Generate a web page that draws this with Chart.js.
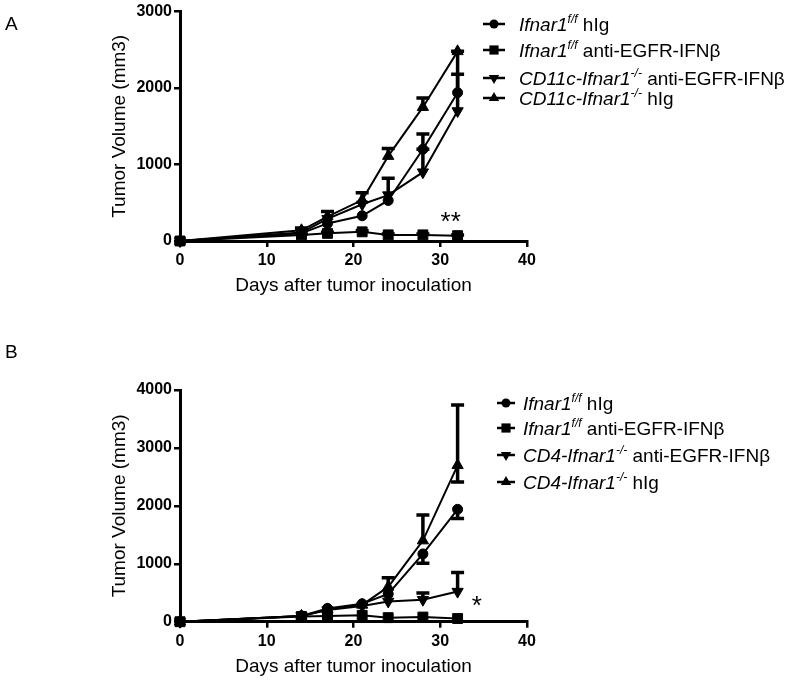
<!DOCTYPE html>
<html>
<head>
<meta charset="utf-8">
<script src="https://cdn.jsdelivr.net/npm/chart.js@4.4.1/dist/chart.umd.min.js"></script>
<style>
  html, body { margin: 0; padding: 0; background: #fff; }
  #wrap { position: relative; width: 793px; height: 680px; }
  .panel { position: absolute; left: 0; width: 793px; height: 340px; }
  #panelA { top: 0; }
  #panelB { top: 340px; }
</style>
</head>
<body>
<div id="wrap">
  <div class="panel" id="panelA"><canvas id="graficoA" width="793" height="340"></canvas></div>
  <div class="panel" id="panelB"><canvas id="graficoB" width="793" height="340"></canvas></div>
</div>
<script>
// due pannelli (A e B): volume tumorale nel tempo, media con barre d'errore
const FONT = "'Liberation Sans', Arial, sans-serif";

const days = [0, 14, 17, 21, 24, 28, 32];
const xTicks = [0, 10, 20, 30, 40];
const yTicksA = [0, 1000, 2000, 3000];
const yTicksB = [0, 1000, 2000, 3000, 4000];

// Pannello A
const aIfnarHig = [0, 100, 230, 330, 530, 1200, 1940];
const aIfnarHigHi = [0, 0, 0, 0, 0, 200, 240];
const aIfnarAnti = [0, 80, 100, 120, 80, 80, 70];
const aIfnarAntiHi = [0, 10, 15, 15, 10, 10, 10];
const aCd11cAnti = [0, 110, 290, 480, 600, 900, 1700];
const aCd11cAntiHi = [0, 0, 0, 0, 220, 300, 780];
const aCd11cHig = [0, 140, 320, 535, 1110, 1750, 2480];
const aCd11cHigHi = [0, 30, 65, 95, 100, 120, 0];

// Pannello B
const bIfnarHig = [0, 100, 230, 310, 480, 1170, 1940];
const bIfnarHigLo = [0, 0, 0, 0, 0, 160, 160];
const bIfnarAnti = [0, 90, 100, 110, 70, 80, 55];
const bCd4Anti = [0, 100, 200, 270, 350, 380, 520];
const bCd4AntiHi = [0, 0, 0, 0, 0, 115, 330];
const bCd4Hig = [0, 100, 210, 290, 600, 1400, 2700];
const bCd4HigHi = [0, 0, 0, 0, 160, 440, 1040];
const bCd4HigLo = [0, 0, 0, 0, 0, 0, 290];

// etichette legenda: [testo, stile] (i = corsivo, s = apice)
const labelIfnarHig = [['Ifnar1', 'i'], ['f/f', 'is'], [' hIg', '']];
const labelIfnarAnti = [['Ifnar1', 'i'], ['f/f', 'is'], [' anti-EGFR-IFN\u03b2', '']];
const labelCd11cAnti = [['CD11c-Ifnar1', 'i'], ['-/-', 'is'], [' anti-EGFR-IFN\u03b2', '']];
const labelCd11cHig = [['CD11c-Ifnar1', 'i'], ['-/-', 'is'], [' hIg', '']];
const labelCd4Anti = [['CD4-Ifnar1', 'i'], ['-/-', 'is'], [' anti-EGFR-IFN\u03b2', '']];
const labelCd4Hig = [['CD4-Ifnar1', 'i'], ['-/-', 'is'], [' hIg', '']];

// asterischi: [testo, giorno, volume]
const starsA = ['**', 31.2, 310];
const starsB = ['*', 34.2, 360];

function punti(vals) {
  return days.map((d, k) => ({ x: d, y: vals[k] }));
}

function serie(segs, vals, style, hi, lo) {
  const s = {
    segmenti: segs,
    label: segs.map(p => p[0]).join(''),
    data: punti(vals),
    errHi: hi || [],
    errLo: lo || [],
    borderColor: '#000',
    backgroundColor: '#000',
    borderWidth: 2,
    tension: 0,
    clip: false,
    pointBackgroundColor: '#000',
    pointBorderColor: '#000',
    pointBorderWidth: 1,
    pointStyle: 'circle',
    pointRadius: 5,
    pointRotation: 0
  };
  if (style === 'rect') { s.pointStyle = 'rect'; s.pointRadius = 7; }
  if (style === 'down') { s.pointStyle = 'triangle'; s.pointRadius = 6.5; s.pointRotation = 180; }
  if (style === 'up') { s.pointStyle = 'triangle'; s.pointRadius = 6.5; }
  return s;
}

const barreErrore = {
  id: 'barreErrore',
  afterDatasetsDraw(chart) {
    const ctx = chart.ctx;
    const ys = chart.scales.y;
    ctx.save();
    ctx.strokeStyle = '#000';
    ctx.lineWidth = 3.5;
    chart.data.datasets.forEach((ds, i) => {
      const meta = chart.getDatasetMeta(i);
      meta.data.forEach((pt, j) => {
        const v = ds.data[j].y;
        const up = ds.errHi[j] || 0;
        const dn = ds.errLo[j] || 0;
        [[up, 1], [dn, -1]].forEach(([e, segno]) => {
          if (e <= 0) return;
          const yy = ys.getPixelForValue(v + segno * e);
          ctx.beginPath();
          ctx.moveTo(pt.x, pt.y);
          ctx.lineTo(pt.x, yy);
          ctx.moveTo(pt.x - 6.5, yy);
          ctx.lineTo(pt.x + 6.5, yy);
          ctx.stroke();
        });
      });
    });
    ctx.restore();
  }
};

function simbolo(ctx, ds, x, y) {
  const r = ds.pointRadius - 0.5;
  ctx.beginPath();
  if (ds.pointStyle === 'circle') {
    ctx.arc(x, y, r, 0, Math.PI * 2);
  } else if (ds.pointStyle === 'rect') {
    const h = r * Math.SQRT1_2;
    ctx.rect(x - h, y - h, 2 * h, 2 * h);
  } else {
    const dir = ds.pointRotation === 180 ? -1 : 1;
    const a = r * 0.866, b = r * 0.5;
    ctx.moveTo(x, y - dir * r);
    ctx.lineTo(x - a, y + dir * b);
    ctx.lineTo(x + a, y + dir * b);
    ctx.closePath();
  }
  ctx.fill();
}

function testoRicco(ctx, segs, x, y) {
  segs.forEach(([t, st]) => {
    const sup = st.indexOf('s') >= 0;
    const it = st.indexOf('i') >= 0;
    const size = sup ? 12 : 19;
    ctx.font = (it ? 'italic ' : '') + size + 'px ' + FONT;
    ctx.fillText(t, x, sup ? y - 8 : y);
    x += ctx.measureText(t).width;
  });
}

const legendaRicca = {
  id: 'legendaRicca',
  afterDraw(chart, args, opts) {
    const ctx = chart.ctx;
    ctx.save();
    ctx.fillStyle = '#000';
    ctx.strokeStyle = '#000';
    ctx.textBaseline = 'alphabetic';
    ctx.textAlign = 'left';
    chart.data.datasets.forEach((ds, i) => {
      const y = opts.rows[i];
      ctx.lineWidth = 2.5;
      ctx.beginPath();
      ctx.moveTo(opts.line[0], y);
      ctx.lineTo(opts.line[1], y);
      ctx.stroke();
      simbolo(ctx, ds, (opts.line[0] + opts.line[1]) / 2, y);
      testoRicco(ctx, ds.segmenti, opts.textX, y + 7);
    });
    // lettera del pannello
    ctx.font = '19px ' + FONT;
    ctx.fillText(opts.lettera[0], opts.lettera[1], opts.lettera[2]);
    // asterischi di significatività
    const st = opts.stars;
    ctx.font = '26px ' + FONT;
    ctx.textAlign = 'center';
    const m = ctx.measureText(st[0]);
    const px = chart.scales.x.getPixelForValue(st[1]);
    const py = chart.scales.y.getPixelForValue(st[2]);
    ctx.fillText(st[0], px, py + (m.actualBoundingBoxAscent - m.actualBoundingBoxDescent) / 2);
    ctx.restore();
  }
};

function creaGrafico(id, datasets, yTicks, padTop, padBottom, legenda) {
  const ctx = document.getElementById(id).getContext('2d');
  return new Chart(ctx, {
    type: 'line',
    data: { datasets: datasets },
    options: {
      responsive: false,
      animation: false,
      devicePixelRatio: 1,
      layout: { padding: { left: 104, right: 266, top: padTop, bottom: padBottom } },
      plugins: {
        legend: { display: false },
        tooltip: { enabled: false },
        legendaRicca: legenda
      },
      scales: {
        x: {
          type: 'linear',
          min: xTicks[0],
          max: xTicks[xTicks.length - 1],
          afterBuildTicks: s => { s.ticks = xTicks.map(v => ({ value: v })); },
          afterFit: s => { s.height = 56; },
          ticks: { color: '#000', padding: 4, callback: v => String(v),
                   font: { family: FONT, size: 16, weight: 'bold' } },
          grid: { drawOnChartArea: false, color: '#000', tickColor: '#000', tickLength: 6, tickWidth: 2.5, lineWidth: 2.5 },
          border: { display: true, color: '#000', width: 3 },
          title: { display: true, text: 'Days after tumor inoculation', color: '#000',
                   padding: { top: 0, bottom: 0 }, font: { family: FONT, size: 19 } }
        },
        y: {
          type: 'linear',
          min: yTicks[0],
          max: yTicks[yTicks.length - 1],
          afterBuildTicks: s => { s.ticks = yTicks.map(v => ({ value: v })); },
          afterFit: s => { s.width = 76; },
          ticks: { color: '#000', padding: 2, callback: v => String(v),
                   font: { family: FONT, size: 16, weight: 'bold' } },
          grid: { drawOnChartArea: false, color: '#000', tickColor: '#000', tickLength: 6, tickWidth: 2.5, lineWidth: 2.5 },
          border: { display: true, color: '#000', width: 3 },
          title: { display: true, text: 'Tumor Volume (mm3)', color: '#000',
                   padding: { top: 4, bottom: 0 }, font: { family: FONT, size: 19 } }
        }
      }
    },
    plugins: [barreErrore, legendaRicca]
  });
}

function start() {
  creaGrafico('graficoA', [
    serie(labelIfnarHig, aIfnarHig, 'circle', aIfnarHigHi),
    serie(labelIfnarAnti, aIfnarAnti, 'rect', aIfnarAntiHi),
    serie(labelCd11cAnti, aCd11cAnti, 'down', aCd11cAntiHi),
    serie(labelCd11cHig, aCd11cHig, 'up', aCd11cHigHi)
  ], yTicksA, 10, 43, {
    line: [483, 505], textX: 519, rows: [24, 50, 78, 98],
    lettera: ['A', 5, 30], stars: starsA
  });

  creaGrafico('graficoB', [
    serie(labelIfnarHig, bIfnarHig, 'circle', null, bIfnarHigLo),
    serie(labelIfnarAnti, bIfnarAnti, 'rect'),
    serie(labelCd4Anti, bCd4Anti, 'down', bCd4AntiHi),
    serie(labelCd4Hig, bCd4Hig, 'up', bCd4HigHi, bCd4HigLo)
  ], yTicksB, 50, 2.3, {
    line: [497, 515], textX: 523, rows: [63, 88, 115, 142],
    lettera: ['B', 5, 18], stars: starsB
  });
}

if (document.readyState === 'loading') document.addEventListener('DOMContentLoaded', start);
else start();
</script>
</body>
</html>
